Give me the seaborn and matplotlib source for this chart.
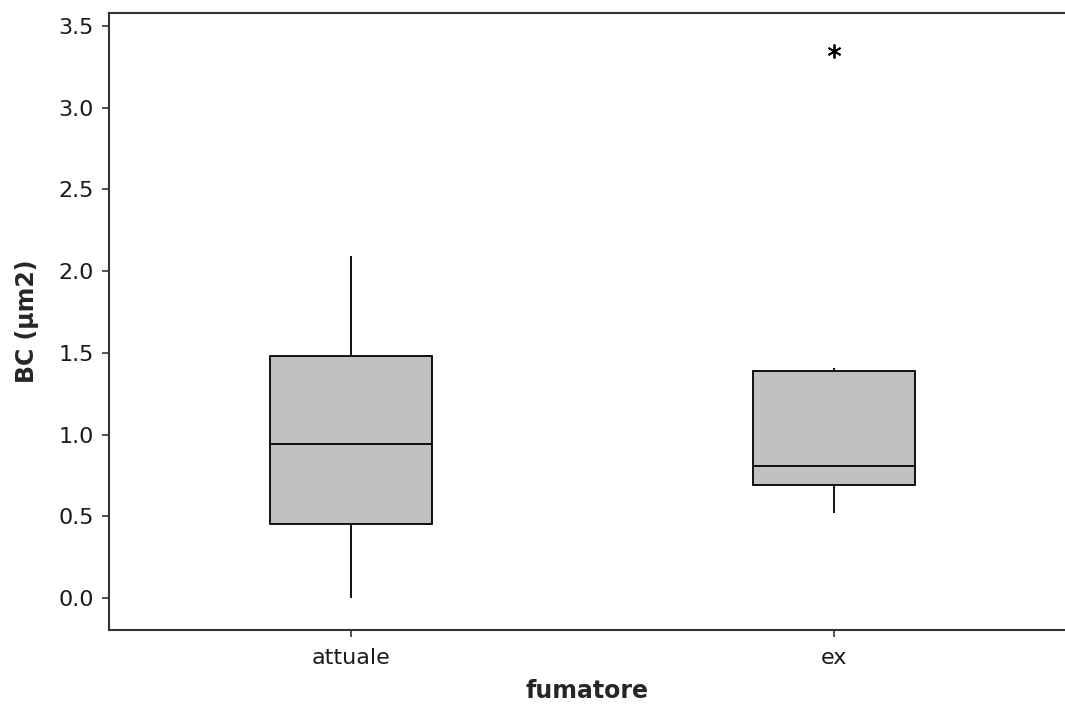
import matplotlib
matplotlib.use("Agg")
import matplotlib.pyplot as plt
import seaborn as sns
import pandas as pd

# Data (five-number summaries reproduced by these samples)
categories = ["attuale", "ex"]
attuale_values = [0.0, 0.45, 0.94, 1.48, 2.09]
ex_values = [0.52, 0.69, 0.69, 0.81, 0.81, 0.81, 1.39, 1.41, 3.35]
y_ticks = [0.0, 0.5, 1.0, 1.5, 2.0, 2.5, 3.0, 3.5]

df = pd.DataFrame({
    "fumatore": [categories[0]] * len(attuale_values) + [categories[1]] * len(ex_values),
    "BC": attuale_values + ex_values,
})

sns.set_style("ticks")
plt.rcParams["font.family"] = ["DejaVu Sans"]

fig = plt.figure(figsize=(10.65, 7.04), dpi=100)
ax = fig.add_axes([109 / 1065, 74 / 704, 1 - 109 / 1065, (630 - 13) / 704])

sns.boxplot(
    data=df, x="fumatore", y="BC", order=categories, ax=ax,
    width=0.335, color="#c0c0c0", saturation=1, linecolor="black", linewidth=1.3,
    showcaps=False, whis=1.5,
    flierprops=dict(marker=(6, 2, 0), markersize=10, markeredgecolor="black",
                    markerfacecolor="black", markeredgewidth=1.3),
)

ax.set_xlim(-0.5, 1.478)
ax.set_ylim(-0.196, 3.58)
ax.set_yticks(y_ticks)
ax.set_yticklabels([f"{v:.1f}" for v in y_ticks])
ax.tick_params(axis="both", labelsize=16, length=5, width=1.2, color="#333333",
               labelcolor="#1a1a1a")
ax.tick_params(axis="y", pad=6)
ax.tick_params(axis="x", pad=8)

for side in ["left", "bottom", "top"]:
    ax.spines[side].set_linewidth(1.5)
    ax.spines[side].set_color("#333333")
ax.spines["right"].set_visible(False)

ax.set_xlabel("fumatore", fontsize=17, fontweight="bold", labelpad=8)
ax.set_ylabel("BC (µm2)", fontsize=17, fontweight="bold", labelpad=14)

fig.savefig("out.png", dpi=100)
